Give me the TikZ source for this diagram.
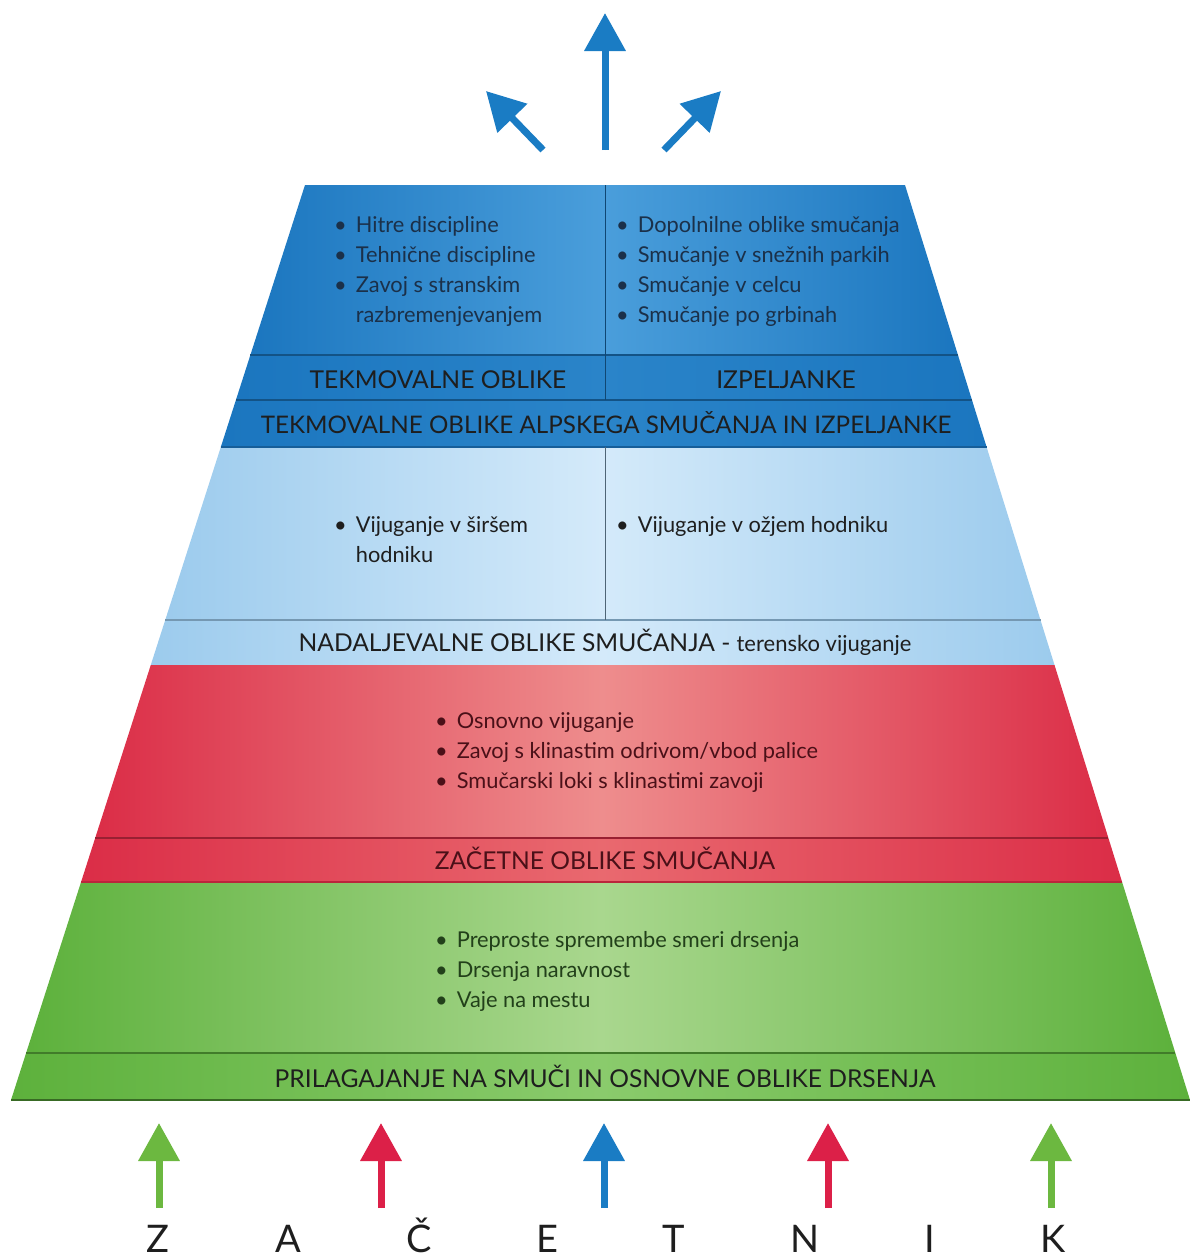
\documentclass[tikz,border=0pt]{standalone}
\usepackage{fontspec}
\setmainfont{Lato}
\usetikzlibrary{arrows.meta}
\definecolor{dbE}{HTML}{1B76BF}
\definecolor{dbC}{HTML}{4A9EDB}
\definecolor{dbT}{HTML}{2A84C9}
\definecolor{lbE}{HTML}{9CCBED}
\definecolor{lbC}{HTML}{D4EAFA}
\definecolor{rdE}{HTML}{DB2D47}
\definecolor{rdC}{HTML}{EE8D8D}
\definecolor{rdT}{HTML}{E9696F}
\definecolor{grE}{HTML}{5DB13C}
\definecolor{grC}{HTML}{A9D78E}
\definecolor{grT}{HTML}{8ACB6C}
\definecolor{arBlue}{HTML}{1A7CC4}
\definecolor{arRed}{HTML}{DC2048}
\definecolor{arGreen}{HTML}{6CB840}
\definecolor{txBlue}{HTML}{1B3049}
\definecolor{txRed}{HTML}{4A1018}
\definecolor{txGreen}{HTML}{22401A}
\definecolor{txDark}{HTML}{1E1E1E}
\begin{document}
\begin{tikzpicture}[x=1pt,y=-1pt,
  declare function={xl(\t)=305-0.32131*(\t-185); xr(\t)=905+0.31148*(\t-185);},
  shDB/.style={left color=dbE, right color=dbE, middle color=dbC},
  shDBT/.style={left color=dbE, right color=dbE, middle color=dbT},
  shLB/.style={left color=lbE, right color=lbE, middle color=lbC},
  shRD/.style={left color=rdE, right color=rdE, middle color=rdC},
  shRDT/.style={left color=rdE, right color=rdE, middle color=rdT},
  shGR/.style={left color=grE, right color=grE, middle color=grC},
  shGRT/.style={left color=grE, right color=grE, middle color=grT},
  sepline/.style={line width=1.2pt},
  titletext/.style={anchor=base, inner sep=0pt, font=\fontsize{24.6}{28}\selectfont},
  itemtext/.style={anchor=base west, inner sep=0pt, font=\fontsize{21.8}{30}\selectfont},
  bigarrow/.style={line width=7pt, -{Triangle[width=40pt,length=38pt]}},
  letter/.style={anchor=base, inner sep=0pt, font=\fontsize{38}{40}\selectfont, text=txDark}
]
\useasboundingbox (0,0) rectangle (1190,1259);
\newcommand{\bandfill}[3]{\path[#3] ({xl(#1)},#1) -- ({xr(#1)},#1) -- ({xr(#2)},#2) -- ({xl(#2)},#2) -- cycle;}
\newcommand{\sepat}[2]{\draw[sepline,#2] ({xl(#1)},#1) -- ({xr(#1)},#1);}
\newcommand{\blist}[1]{\begin{tabular}[t]{@{}l@{\hspace{9pt}}l@{}}#1\end{tabular}}

% ---- bands ----
\bandfill{185}{355}{shDB}
\bandfill{355}{400}{shDBT}
\bandfill{400}{447}{shDBT}
\bandfill{447}{620}{shLB}
\bandfill{620}{665}{shLB}
\bandfill{665}{838}{shRD}
\bandfill{838}{882}{shRDT}
\bandfill{882}{1053}{shGR}
\bandfill{1053}{1100}{shGRT}

% ---- separators ----
\sepat{355}{draw=dbE!70!black}
\sepat{400}{draw=dbE!70!black}
\sepat{447}{draw=dbE!80!black}
\sepat{620}{draw=lbE!75!black}
\sepat{838}{draw=rdE!70!black}
\sepat{882}{draw=rdE!85!black}
\sepat{1053}{draw=grE!70!black}
\sepat{1100}{draw=grE!60!black}
\draw[line width=1pt, draw=dbE!60!black] (605,185) -- (605,400);
\draw[line width=1pt, draw=lbE!50!black] (605,447) -- (605,620);

% ---- dark blue content ----
\node[itemtext, text=txBlue] (tekItems) at (334,232) {\blist{\textbullet & Hitre discipline\\ \textbullet & Tehnične discipline\\ \textbullet & Zavoj s stranskim\\ & razbremenjevanjem}};
\node[itemtext, text=txBlue] (izpItems) at (616,232) {\blist{\textbullet & Dopolnilne oblike smučanja\\ \textbullet & Smučanje v snežnih parkih\\ \textbullet & Smučanje v celcu\\ \textbullet & Smučanje po grbinah}};
\node[titletext, text=txDark] (tekTitle) at (438,388) {TEKMOVALNE OBLIKE};
\node[titletext, text=txDark] (izpTitle) at (786,388) {IZPELJANKE};
\node[titletext, text=txDark, font=\fontsize{24.2}{28}\selectfont] (alpTitle) at (606,433) {TEKMOVALNE OBLIKE ALPSKEGA SMUČANJA IN IZPELJANKE};

% ---- light blue ----
\node[itemtext, text=txDark] (sirItems) at (334,532) {\blist{\textbullet & Vijuganje v širšem\\ & hodniku}};
\node[itemtext, text=txDark] (ozjItems) at (616,532) {\blist{\textbullet & Vijuganje v ožjem hodniku}};
\node[titletext, text=txDark] (nadTitle) at (605,651) {NADALJEVALNE OBLIKE SMUČANJA - \fontsize{22}{28}\selectfont terensko vijuganje};

% ---- red ----
\node[itemtext, text=txRed] (zacItems) at (435,728) {\blist{\textbullet & Osnovno vijuganje\\ \textbullet & Zavoj s klinastim odrivom/vbod palice\\ \textbullet & Smučarski loki s klinastimi zavoji}};
\node[titletext, text=txRed] (zacTitle) at (605,869) {ZAČETNE OBLIKE SMUČANJA};

% ---- green ----
\node[itemtext, text=txGreen] (priItems) at (435,947) {\blist{\textbullet & Preproste spremembe smeri drsenja\\ \textbullet & Drsenja naravnost\\ \textbullet & Vaje na mestu}};
\node[titletext, text=txDark] (priTitle) at (605,1087) {PRILAGAJANJE NA SMUČI IN OSNOVNE OBLIKE DRSENJA};

% ---- top arrows ----
\coordinate (tcTail) at (605,150); \coordinate (tcTip) at (605,13);
\coordinate (tlTail) at (543,150); \coordinate (tlTip) at (486,91);
\coordinate (trTail) at (664,150); \coordinate (trTip) at (721,91);
\draw[bigarrow, draw=arBlue, fill=arBlue] (tcTail) -- (tcTip);
\draw[bigarrow, draw=arBlue, fill=arBlue] (tlTail) -- (tlTip);
\draw[bigarrow, draw=arBlue, fill=arBlue] (trTail) -- (trTip);

% ---- bottom arrows ----
\coordinate (b1Tail) at (159,1208); \coordinate (b1Tip) at (159,1123);
\coordinate (b2Tail) at (381,1208); \coordinate (b2Tip) at (381,1123);
\coordinate (b3Tail) at (604,1208); \coordinate (b3Tip) at (604,1123);
\coordinate (b4Tail) at (828,1208); \coordinate (b4Tip) at (828,1123);
\coordinate (b5Tail) at (1051,1208); \coordinate (b5Tip) at (1051,1123);
\draw[bigarrow, draw=arGreen, fill=arGreen] (b1Tail) -- (b1Tip);
\draw[bigarrow, draw=arRed, fill=arRed] (b2Tail) -- (b2Tip);
\draw[bigarrow, draw=arBlue, fill=arBlue] (b3Tail) -- (b3Tip);
\draw[bigarrow, draw=arRed, fill=arRed] (b4Tail) -- (b4Tip);
\draw[bigarrow, draw=arGreen, fill=arGreen] (b5Tail) -- (b5Tip);

% ---- letters ----
\node[letter] (lZ) at (158,1252) {Z};
\node[letter] (lA) at (288,1252) {A};
\node[letter] (lC) at (419,1252) {Č};
\node[letter] (lE) at (547,1252) {E};
\node[letter] (lT) at (674,1252) {T};
\node[letter] (lN) at (805,1252) {N};
\node[letter] (lI) at (930,1252) {I};
\node[letter] (lK) at (1053,1252) {K};
\end{tikzpicture}
\end{document}
